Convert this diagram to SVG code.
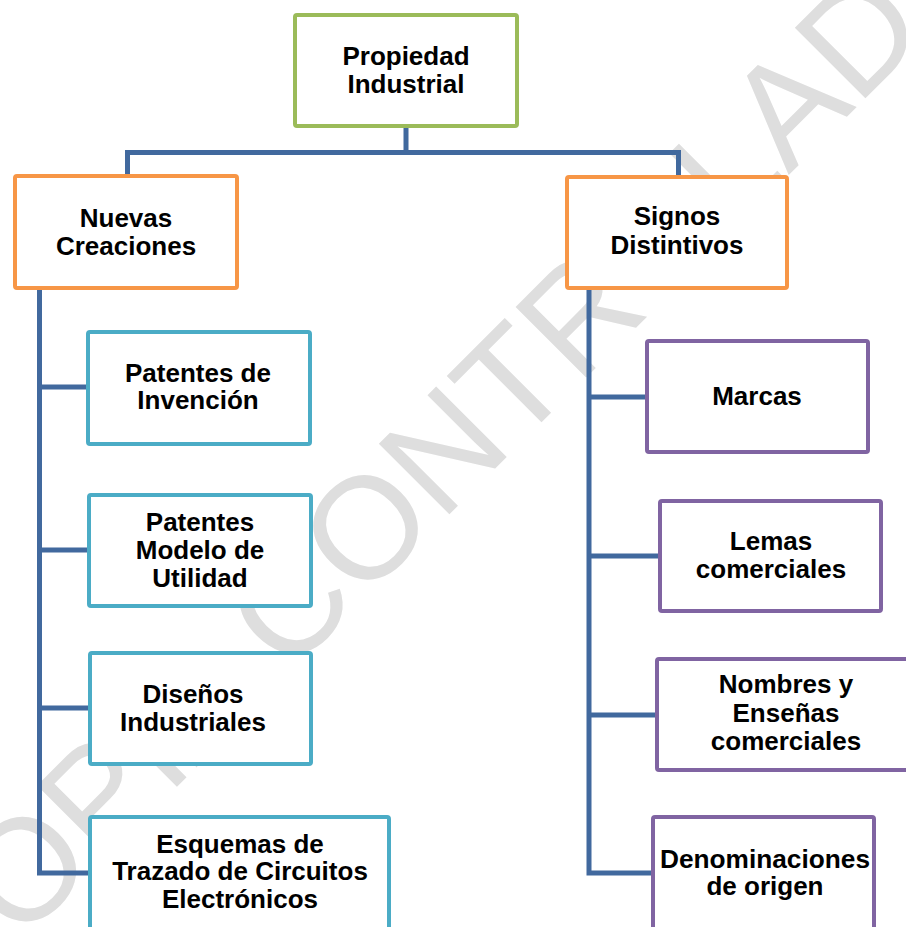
<svg xmlns="http://www.w3.org/2000/svg" width="906" height="927" viewBox="0 0 906 927">
<style>
.bg{fill:#ffffff}
.wm{font-family:"Liberation Sans",Arial,sans-serif;font-size:145px;fill:#dedede}
.box{fill:#ffffff;stroke-width:4}
.g{stroke:#9bbb59}
.o{stroke:#f79646}
.c{stroke:#4bacc6}
.p{stroke:#8064a2}
.t{font-family:"Liberation Sans",Arial,sans-serif;font-size:26px;font-weight:bold;fill:#000000;text-anchor:middle}
.con{fill:none;stroke:#41699e;stroke-width:5}
</style>
<rect class="bg" x="0" y="0" width="906" height="927"/>
<text class="wm" x="-54.6" y="1018.4" transform="rotate(-45 -54.6 1018.4)">COPIA CONTROLADA</text>
<g id="connectors">
<path class="con" d="M406 128 V152.5 M127.5 176 V152.5 H678.5 V177"/>
<path class="con" d="M39.5 290 V873 H90 M39.5 387 H88 M39.5 550 H89 M39.5 708 H90"/>
<path class="con" d="M589 289 V873 H653 M589 397 H647 M589 556 H660 M589 715 H657"/>
</g>
<g id="propiedad-industrial">
<rect class="box g" x="295" y="15" width="222" height="111" rx="2"/>
<text class="t" x="406" y="65">Propiedad</text>
<text class="t" x="406" y="93">Industrial</text>
</g>
<g id="nuevas-creaciones">
<rect class="box o" x="15" y="176" width="222" height="112" rx="2"/>
<text class="t" x="126" y="227">Nuevas</text>
<text class="t" x="126" y="255">Creaciones</text>
</g>
<g id="signos-distintivos">
<rect class="box o" x="567" y="177" width="220" height="111" rx="2"/>
<text class="t" x="677" y="225">Signos</text>
<text class="t" x="677" y="254">Distintivos</text>
</g>
<g id="patentes-invencion">
<rect class="box c" x="88" y="332" width="222" height="112" rx="2"/>
<text class="t" x="198" y="382">Patentes de</text>
<text class="t" x="198" y="409">Invención</text>
</g>
<g id="patentes-modelo-utilidad">
<rect class="box c" x="89" y="495" width="222" height="111" rx="2"/>
<text class="t" x="200" y="531">Patentes</text>
<text class="t" x="200" y="559">Modelo de</text>
<text class="t" x="200" y="587">Utilidad</text>
</g>
<g id="disenos-industriales">
<rect class="box c" x="90" y="653" width="221" height="111" rx="2"/>
<text class="t" x="193" y="703">Diseños</text>
<text class="t" x="193" y="731">Industriales</text>
</g>
<g id="esquemas-trazado">
<rect class="box c" x="90" y="817" width="299" height="130" rx="2"/>
<text class="t" x="240" y="853">Esquemas de</text>
<text class="t" x="240" y="880">Trazado de Circuitos</text>
<text class="t" x="240" y="908">Electrónicos</text>
</g>
<g id="marcas">
<rect class="box p" x="647" y="341" width="221" height="111" rx="2"/>
<text class="t" x="757" y="405">Marcas</text>
</g>
<g id="lemas-comerciales">
<rect class="box p" x="660" y="501" width="221" height="110" rx="2"/>
<text class="t" x="771" y="550">Lemas</text>
<text class="t" x="771" y="578">comerciales</text>
</g>
<g id="nombres-ensenas">
<rect class="box p" x="657" y="659" width="262" height="111" rx="2"/>
<text class="t" x="786" y="693">Nombres y</text>
<text class="t" x="786" y="722">Enseñas</text>
<text class="t" x="786" y="750">comerciales</text>
</g>
<g id="denominaciones-origen">
<rect class="box p" x="653" y="817" width="221" height="130" rx="2"/>
<text class="t" x="765" y="868" textLength="210" lengthAdjust="spacingAndGlyphs">Denominaciones</text>
<text class="t" x="765" y="895">de origen</text>
</g>
</svg>
